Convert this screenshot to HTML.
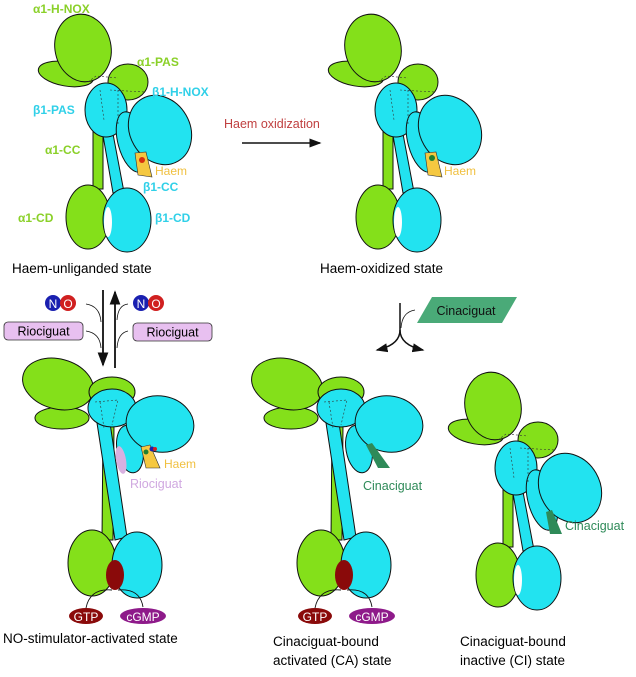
<!DOCTYPE html>
<html><head><meta charset="utf-8"><style>
body{margin:0;background:#fff}
svg{display:block;font-family:"Liberation Sans",sans-serif}
.g{fill:#84e01a;stroke:#111;stroke-width:1}
.c{fill:#22e3f0;stroke:#111;stroke-width:1}
.d{fill:none;stroke:#333;stroke-width:0.6;stroke-dasharray:2 2}
.lg{fill:#8ad028;font-weight:bold;font-size:12px}
.lc{fill:#30d0e8;font-weight:bold;font-size:12px}
.t{font-size:13.5px;fill:#000}
</style></head><body>
<svg width="636" height="677" viewBox="0 0 636 677">
<defs>
<marker id="ah" markerWidth="8" markerHeight="6" refX="7" refY="3" orient="auto"><path d="M0,0L8,3L0,6z" fill="#111"/></marker>
<g id="inact">
  <ellipse class="g" cx="66" cy="74" rx="28" ry="12" transform="rotate(10 66 74)"/>
  <ellipse class="g" cx="83" cy="48" rx="28" ry="34" transform="rotate(-12 83 48)"/>
  <ellipse class="g" cx="128" cy="82" rx="20" ry="18"/>
  <rect class="g" x="93" y="117" width="10" height="72"/>
  <polygon class="c" points="100,118 110,118 124,192 113,193"/>
  <ellipse class="g" cx="88" cy="217" rx="22" ry="32"/>
  <ellipse class="c" cx="127" cy="220" rx="24" ry="32"/>
  <ellipse cx="108" cy="222" rx="4" ry="15" fill="#fff"/>
  <ellipse class="c" cx="106" cy="110" rx="21" ry="27"/>
  <ellipse class="c" cx="132" cy="142" rx="14" ry="31" transform="rotate(-15 132 142)"/>
  <ellipse class="c" cx="160" cy="130" rx="30" ry="36" transform="rotate(-30 160 130)"/>
  <path class="d" d="M88,82 L96,76 L118,78 M110,90 L145,92 M100,90 L104,120 M118,90 L118,125"/>
</g>
<g id="act">
  <ellipse class="g" cx="62" cy="418" rx="27" ry="11"/>
  <ellipse class="g" cx="58" cy="384" rx="36" ry="25" transform="rotate(15 58 384)"/>
  <ellipse class="g" cx="112" cy="392" rx="23" ry="15"/>
  <polygon class="g" points="103,425 114,425 113,540 102,540"/>
  <polygon class="c" points="97,423 110,423 127,537 115,540"/>
  <ellipse class="g" cx="92" cy="563" rx="24" ry="33"/>
  <ellipse class="c" cx="137" cy="565" rx="25" ry="33"/>
  <ellipse class="c" cx="112" cy="408" rx="24" ry="19"/>
  <ellipse class="c" cx="130" cy="449" rx="13" ry="24" transform="rotate(-10 130 449)"/>
  <ellipse class="c" cx="160" cy="424" rx="34" ry="28" transform="rotate(10 160 424)"/>
  <path class="d" d="M95,402 L118,400 L112,425 M100,402 L104,428"/>
  <ellipse cx="115" cy="575" rx="9" ry="15" fill="#8a0a0a"/>
  <path d="M86,608 Q90,588 112,590 M118,590 Q140,588 143,607" fill="none" stroke="#111" stroke-width="0.9"/>
  <ellipse cx="86" cy="616" rx="17" ry="8" fill="#8a0a0a"/>
  <text x="86" y="621" font-size="12" fill="#fff" text-anchor="middle">GTP</text>
  <ellipse cx="143" cy="616" rx="23" ry="8" fill="#8e1a8a"/>
  <text x="143" y="621" font-size="12" fill="#fff" text-anchor="middle">cGMP</text>
</g>
</defs>

<use href="#inact"/>
<polygon points="135,153 146,152 152,177 138,175" fill="#f5c840" stroke="#333" stroke-width="0.6"/>
<circle cx="142" cy="160" r="3" fill="#d83010"/>
<text class="lg" x="33" y="13">α1-H-NOX</text>
<text class="lg" x="137" y="66">α1-PAS</text>
<text class="lc" x="152" y="96">β1-H-NOX</text>
<text class="lc" x="33" y="114">β1-PAS</text>
<text class="lg" x="45" y="154">α1-CC</text>
<text x="155" y="175" font-size="12" fill="#f0c040">Haem</text>
<text class="lc" x="143" y="191">β1-CC</text>
<text class="lg" x="18" y="222">α1-CD</text>
<text class="lc" x="155" y="222">β1-CD</text>
<text class="t" x="12" y="273">Haem-unliganded state</text>

<text x="224" y="128" font-size="12.5" fill="#c04040">Haem oxidization</text>
<line x1="242" y1="143" x2="320" y2="143" stroke="#111" stroke-width="1.5" marker-end="url(#ah)"/>

<use href="#inact" x="290"/>
<polygon points="425,153 436,152 442,177 428,175" fill="#f5c840" stroke="#333" stroke-width="0.6"/>
<circle cx="432" cy="158" r="3" fill="#208030"/>
<text x="444" y="175" font-size="12" fill="#f0c040">Haem</text>
<text class="t" x="320" y="273">Haem-oxidized state</text>

<line x1="103" y1="290" x2="103" y2="365" stroke="#111" stroke-width="1.8" marker-end="url(#ah)"/>
<line x1="115" y1="368" x2="115" y2="292" stroke="#111" stroke-width="1.8" marker-end="url(#ah)"/>
<path d="M86,304 Q100,306 101,322 M86,331 Q100,333 101,348" fill="none" stroke="#111" stroke-width="0.8"/>
<path d="M117,320 Q118,305 128,304 M117,348 Q118,333 128,331" fill="none" stroke="#111" stroke-width="0.8"/>
<circle cx="53" cy="303" r="8" fill="#1a20b0"/><circle cx="68" cy="303" r="8" fill="#d02020"/>
<text x="53" y="308" font-size="12" fill="#fff" text-anchor="middle">N</text><text x="68" y="308" font-size="12" fill="#fff" text-anchor="middle">O</text>
<circle cx="141" cy="303" r="8" fill="#1a20b0"/><circle cx="156" cy="303" r="8" fill="#d02020"/>
<text x="141" y="308" font-size="12" fill="#fff" text-anchor="middle">N</text><text x="156" y="308" font-size="12" fill="#fff" text-anchor="middle">O</text>
<rect x="4" y="322" width="79" height="18" rx="4" fill="#e8c0f0" stroke="#333" stroke-width="0.8"/>
<text x="43.5" y="335.5" font-size="12.5" text-anchor="middle">Riociguat</text>
<rect x="133" y="323" width="79" height="18" rx="4" fill="#e8c0f0" stroke="#333" stroke-width="0.8"/>
<text x="172.5" y="336.5" font-size="12.5" text-anchor="middle">Riociguat</text>

<use href="#act"/>
<ellipse cx="121" cy="460" rx="5" ry="14" fill="#d8b0e0" transform="rotate(-10 121 460)"/>
<polygon points="141,447 150,445 160,468 146,468" fill="#f5c840" stroke="#333" stroke-width="0.6"/>
<circle cx="146" cy="452" r="2.5" fill="#208030"/><circle cx="152" cy="449" r="2.5" fill="#1a20b0"/><circle cx="155" cy="449" r="2" fill="#d02020"/>
<text x="164" y="468" font-size="12" fill="#f0c040">Haem</text>
<text x="130" y="488" font-size="12.5" fill="#d0a8e0">Riociguat</text>
<text class="t" x="3" y="643">NO-stimulator-activated state</text>

<polygon points="432,297 517,297 502,323 417,323" fill="#4aaa78"/>
<text x="466" y="315" font-size="12.5" fill="#111" text-anchor="middle">Cinaciguat</text>
<path d="M400,303 L400,330 Q400,345 377,350" fill="none" stroke="#111" stroke-width="1.5" marker-end="url(#ah)"/>
<path d="M400,330 Q400,345 423,350" fill="none" stroke="#111" stroke-width="1.5" marker-end="url(#ah)"/>
<path d="M415,310 Q402,312 401,328" fill="none" stroke="#111" stroke-width="0.8"/>

<use href="#act" x="229"/>
<polygon points="366,445 372,443 390,468 378,468" fill="#2e8a58"/>
<text x="363" y="490" font-size="12.5" fill="#2e8a58">Cinaciguat</text>
<text class="t" x="273" y="646">Cinaciguat-bound</text>
<text class="t" x="273" y="665">activated (CA) state</text>

<use href="#inact" x="410" y="358"/>
<polygon points="546,512 552,510 562,534 550,534" fill="#2e8a58"/>
<text x="565" y="530" font-size="12.5" fill="#2e8a58">Cinaciguat</text>
<text class="t" x="460" y="646">Cinaciguat-bound</text>
<text class="t" x="460" y="665">inactive (CI) state</text>
</svg>
</body></html>
